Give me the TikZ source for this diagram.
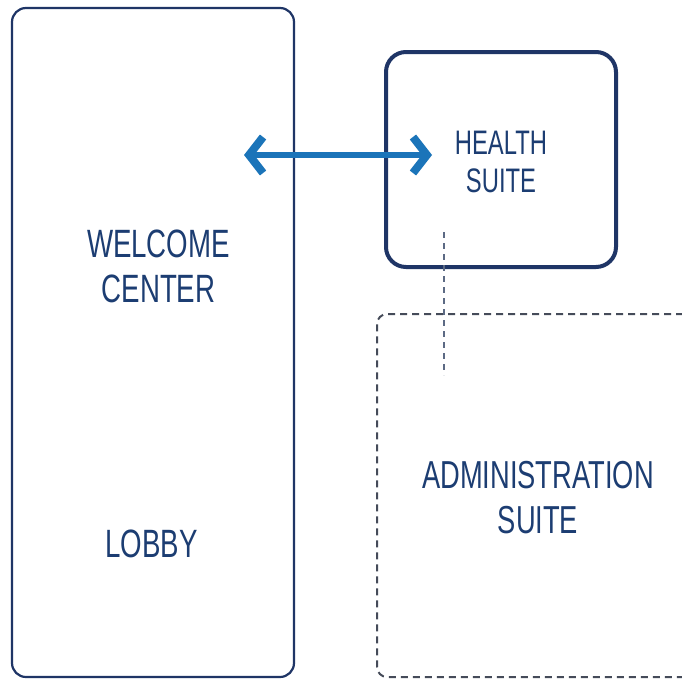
\documentclass[tikz,border=0pt]{standalone}
\usepackage{fontspec}
\setmainfont{Liberation Sans}[FakeStretch=0.7]
\usetikzlibrary{arrows.meta}
\definecolor{navy}{HTML}{1C3D72}
\definecolor{boxnavy}{HTML}{1F3566}
\definecolor{arrowblue}{HTML}{1B74B9}
\definecolor{dashgray}{HTML}{454B59}
\definecolor{linkgray}{HTML}{5C6A84}
\tikzset{
  room/.style={draw=boxnavy, line width=2.2pt, rounded corners=14pt, inner sep=0pt},
  healthroom/.style={draw=boxnavy, line width=4pt, rounded corners=20pt, inner sep=0pt},
  adminroom/.style={draw=dashgray, line width=2pt, dash pattern=on 7pt off 5pt, rounded corners=10pt, inner sep=0pt},
  label/.style={text=navy, align=center, inner sep=0pt},
  link/.style={draw=arrowblue, line width=6pt, {Straight Barb[length=14pt,width=36pt,line width=8pt]}-{Straight Barb[length=14pt,width=36pt,line width=8pt]}},
  dashlink/.style={draw=linkgray, line width=1.6pt, dash pattern=on 6pt off 5pt}
}
\begin{document}
\begin{tikzpicture}[x=1pt,y=-1pt]
\useasboundingbox (0,0) rectangle (682,680);
\fill[white] (0,0) rectangle (682,680);
\node[room, minimum width=282pt, minimum height=669pt] (wc) at (153,342.5) {};
\node[healthroom, minimum width=230pt, minimum height=215pt] (hs) at (501,159.5) {};
\begin{scope}
\clip (0,0) rectangle (682,680);
\node[adminroom, minimum width=340pt, minimum height=363pt] (as) at (547,495.5) {};
\end{scope}
\node[label, font=\fontsize{39.5}{45}\selectfont] (wct) at (158.5,266) {WELCOME\\CENTER};
\node[label, font=\fontsize{39.5}{45}\selectfont] (lob) at (151.5,544) {LOBBY};
\node[label, font=\fontsize{34}{38}\selectfont] (hst) at (501,162) {HEALTH\\SUITE};
\node[label, font=\fontsize{39}{45}\selectfont] (ast) at (538,498) {ADMINISTRATION\\SUITE};
\coordinate (a1) at (244,155);
\coordinate (a2) at (432,155);
\draw[link] (a1) -- (a2);
\coordinate (d1) at (444,232);
\coordinate (d2) at (444,375);
\draw[dashlink] (d1) -- (d2);
\end{tikzpicture}
\end{document}
